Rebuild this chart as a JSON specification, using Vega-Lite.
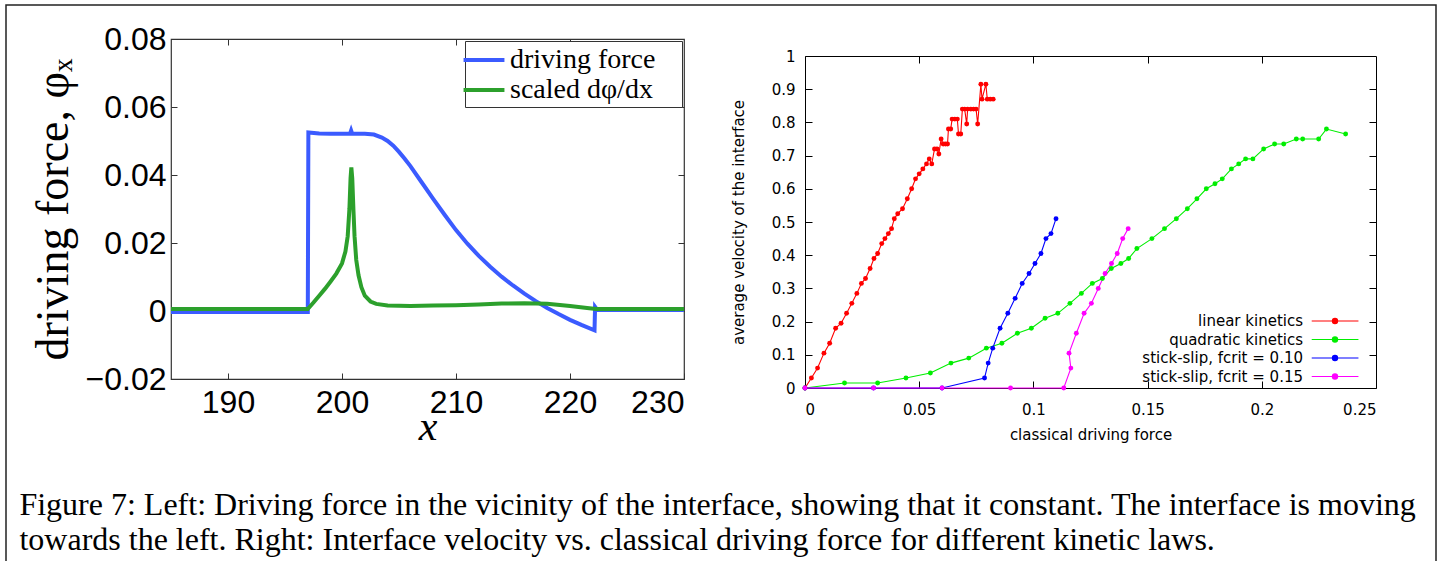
{
  "$schema": "https://vega.github.io/schema/vega-lite/v6.json",
  "background": "white",
  "padding": {"left": 5, "top": 4, "right": 5, "bottom": 0},
  "columns": 2,
  "align": "none",
  "spacing": -1418,
  "config": {
    "axis": {"grid": false, "domain": false, "tickColor": "black", "labelColor": "black", "titleColor": "black", "titleFontWeight": "normal", "labelFontWeight": "normal"},
    "title": {"fontWeight": "normal", "color": "black"}
  },
  "concat": [
    {
      "width": 1430,
      "height": 620,
      "data": {"values": []},
      "mark": {"type": "point", "opacity": 0},
      "view": {"stroke": "#222", "strokeWidth": 1.5, "fill": null}
    },
    {
      "spacing": 16,
      "vconcat": [
        {
          "width": 1,
          "height": 1,
          "data": {"values": []},
          "mark": {"type": "point", "opacity": 0},
          "view": {"stroke": null, "fill": null}
        },
        {
          "columns": 2,
          "align": "none",
          "spacing": 37,
          "resolve": {"scale": {"color": "independent"}, "legend": {"color": "independent"}},
          "title": {
            "text": [
              "Figure 7: Left: Driving force in the vicinity of the interface, showing that it constant. The interface is moving",
              "towards the left. Right: Interface velocity vs. classical driving force for different kinetic laws."
            ],
            "orient": "bottom",
            "anchor": "start",
            "align": "left",
            "frame": "bounds",
            "dx": -10,
            "offset": 42,
            "font": "Liberation Serif",
            "fontSize": 32,
            "lineHeight": 35,
            "color": "black"
          },
          "concat": [
            {
              "width": 513,
              "height": 340,
              "view": {"stroke": "#333", "strokeWidth": 1.2},
              "data": {"values": [
                {"s": "driving force", "i": 1, "x": 185, "y": -0.0003},
                {"s": "driving force", "i": 2, "x": 197.0, "y": -0.0003},
                {"s": "driving force", "i": 3, "x": 197.05, "y": 0.0525},
                {"s": "driving force", "i": 4, "x": 198, "y": 0.0522},
                {"s": "driving force", "i": 5, "x": 199, "y": 0.0521},
                {"s": "driving force", "i": 6, "x": 200, "y": 0.0521},
                {"s": "driving force", "i": 7, "x": 200.7, "y": 0.0521},
                {"s": "driving force", "i": 8, "x": 200.8, "y": 0.0531},
                {"s": "driving force", "i": 9, "x": 200.9, "y": 0.0521},
                {"s": "driving force", "i": 10, "x": 202, "y": 0.0521},
                {"s": "driving force", "i": 11, "x": 202.8, "y": 0.0519},
                {"s": "driving force", "i": 12, "x": 203.5, "y": 0.0510},
                {"s": "driving force", "i": 13, "x": 204, "y": 0.0500},
                {"s": "driving force", "i": 14, "x": 204.5, "y": 0.0486},
                {"s": "driving force", "i": 15, "x": 205, "y": 0.0468},
                {"s": "driving force", "i": 16, "x": 205.5, "y": 0.0448},
                {"s": "driving force", "i": 17, "x": 206, "y": 0.0426},
                {"s": "driving force", "i": 18, "x": 207, "y": 0.0378},
                {"s": "driving force", "i": 19, "x": 208, "y": 0.0330},
                {"s": "driving force", "i": 20, "x": 209, "y": 0.0283},
                {"s": "driving force", "i": 21, "x": 210, "y": 0.0238},
                {"s": "driving force", "i": 22, "x": 211, "y": 0.0198},
                {"s": "driving force", "i": 23, "x": 212, "y": 0.0162},
                {"s": "driving force", "i": 24, "x": 213, "y": 0.0130},
                {"s": "driving force", "i": 25, "x": 214, "y": 0.0101},
                {"s": "driving force", "i": 26, "x": 215, "y": 0.0075},
                {"s": "driving force", "i": 27, "x": 216, "y": 0.0051},
                {"s": "driving force", "i": 28, "x": 217, "y": 0.0029},
                {"s": "driving force", "i": 29, "x": 218, "y": 0.0009},
                {"s": "driving force", "i": 30, "x": 219, "y": -0.0009},
                {"s": "driving force", "i": 31, "x": 220, "y": -0.0026},
                {"s": "driving force", "i": 32, "x": 221, "y": -0.0041},
                {"s": "driving force", "i": 33, "x": 222.15, "y": -0.0057},
                {"s": "driving force", "i": 34, "x": 222.2, "y": 0.0012},
                {"s": "driving force", "i": 35, "x": 222.4, "y": 0.0003},
                {"s": "driving force", "i": 36, "x": 230, "y": 0.0003},
                {"s": "scaled dφ/dx", "i": 1, "x": 185, "y": 0.0006},
                {"s": "scaled dφ/dx", "i": 2, "x": 197.0, "y": 0.0006},
                {"s": "scaled dφ/dx", "i": 3, "x": 197.5, "y": 0.0025},
                {"s": "scaled dφ/dx", "i": 4, "x": 198, "y": 0.0045},
                {"s": "scaled dφ/dx", "i": 5, "x": 198.5, "y": 0.0065},
                {"s": "scaled dφ/dx", "i": 6, "x": 199, "y": 0.0087},
                {"s": "scaled dφ/dx", "i": 7, "x": 199.5, "y": 0.0110},
                {"s": "scaled dφ/dx", "i": 8, "x": 200, "y": 0.0140},
                {"s": "scaled dφ/dx", "i": 9, "x": 200.3, "y": 0.0175},
                {"s": "scaled dφ/dx", "i": 10, "x": 200.5, "y": 0.0220},
                {"s": "scaled dφ/dx", "i": 11, "x": 200.65, "y": 0.0300},
                {"s": "scaled dφ/dx", "i": 12, "x": 200.75, "y": 0.0390},
                {"s": "scaled dφ/dx", "i": 13, "x": 200.82, "y": 0.0422},
                {"s": "scaled dφ/dx", "i": 14, "x": 200.9, "y": 0.0390},
                {"s": "scaled dφ/dx", "i": 15, "x": 201.0, "y": 0.0300},
                {"s": "scaled dφ/dx", "i": 16, "x": 201.1, "y": 0.0220},
                {"s": "scaled dφ/dx", "i": 17, "x": 201.25, "y": 0.0150},
                {"s": "scaled dφ/dx", "i": 18, "x": 201.45, "y": 0.0105},
                {"s": "scaled dφ/dx", "i": 19, "x": 201.7, "y": 0.0070},
                {"s": "scaled dφ/dx", "i": 20, "x": 202.0, "y": 0.0045},
                {"s": "scaled dφ/dx", "i": 21, "x": 202.5, "y": 0.0028},
                {"s": "scaled dφ/dx", "i": 22, "x": 203, "y": 0.0021},
                {"s": "scaled dφ/dx", "i": 23, "x": 204, "y": 0.0016},
                {"s": "scaled dφ/dx", "i": 24, "x": 206, "y": 0.0015},
                {"s": "scaled dφ/dx", "i": 25, "x": 208, "y": 0.0016},
                {"s": "scaled dφ/dx", "i": 26, "x": 210, "y": 0.0017},
                {"s": "scaled dφ/dx", "i": 27, "x": 212, "y": 0.0019},
                {"s": "scaled dφ/dx", "i": 28, "x": 214, "y": 0.0022},
                {"s": "scaled dφ/dx", "i": 29, "x": 216, "y": 0.0023},
                {"s": "scaled dφ/dx", "i": 30, "x": 218, "y": 0.0021},
                {"s": "scaled dφ/dx", "i": 31, "x": 220, "y": 0.0015},
                {"s": "scaled dφ/dx", "i": 32, "x": 221.5, "y": 0.0009},
                {"s": "scaled dφ/dx", "i": 33, "x": 222.3, "y": 0.0006},
                {"s": "scaled dφ/dx", "i": 34, "x": 230, "y": 0.0006}
              ]},
              "layer": [
                {
                  "mark": {"type": "point", "opacity": 0},
                  "encoding": {
                    "x": {"field": "x", "type": "quantitative", "scale": {"domain": [185, 230], "nice": false, "zero": false},
                      "axis": {"orient": "top", "values": [190, 200, 210, 220], "labels": false, "tickSize": -6, "tickColor": "#333", "title": null}},
                    "y": {"field": "y", "type": "quantitative", "scale": {"domain": [-0.02, 0.08], "nice": false, "zero": false},
                      "axis": {"orient": "right", "values": [0, 0.02, 0.04, 0.06], "labels": false, "tickSize": -6, "tickColor": "#333", "title": null}}
                  }
                },
                {
                  "mark": {"type": "line", "strokeWidth": 4},
                  "encoding": {
                    "x": {"field": "x", "type": "quantitative", "scale": {"domain": [185, 230], "nice": false, "zero": false},
                      "axis": {"orient": "bottom", "values": [190, 200, 210, 220, 230], "format": "d", "tickSize": -6, "tickColor": "#333",
                        "labelFont": "Liberation Sans", "labelFontSize": 32, "labelPadding": 14,
                        "title": "x", "titleFont": "Liberation Serif", "titleFontStyle": "italic", "titleFontSize": 42, "titlePadding": -12}},
                    "y": {"field": "y", "type": "quantitative", "scale": {"domain": [-0.02, 0.08], "nice": false, "zero": false},
                      "axis": {"orient": "left", "values": [-0.02, 0, 0.02, 0.04, 0.06, 0.08], "format": ".2~f", "tickSize": -6, "tickColor": "#333",
                        "labelFont": "Liberation Sans", "labelFontSize": 32, "labelPadding": 11,
                        "title": "driving force, φₓ", "titleFont": "Liberation Serif", "titleFontSize": 46, "titlePadding": 8}},
                    "color": {"field": "s", "type": "nominal",
                      "scale": {"domain": ["driving force", "scaled dφ/dx"], "range": ["#3b5bff", "#2ca02c"]},
                      "legend": {"orient": "top-right", "offset": 2, "title": null, "symbolType": "M-1.72,0L-1.72,0M-1.46,0H1.46M13.3,0L13.3,0", "symbolSize": 784, "symbolStrokeWidth": 4,
                        "labelFont": "Liberation Serif", "labelFontSize": 28, "labelColor": "black", "labelLimit": 0, "labelOffset": 10,
                        "strokeColor": "#333", "fillColor": "white", "padding": 3, "rowPadding": 0}},
                    "order": {"field": "i", "type": "quantitative"}
                  }
                }
              ],
              "resolve": {"axis": {"x": "independent", "y": "independent"}}
            },
            {
              "spacing": 8,
              "vconcat": [
                {
                  "width": 1,
                  "height": 1,
                  "data": {"values": []},
                  "mark": {"type": "point", "opacity": 0},
                  "view": {"stroke": null, "fill": null}
                },
                {
                  "width": 571,
                  "height": 332,
                  "view": {"stroke": "black", "strokeWidth": 1},
                  "data": {"values": [
                    {"s": "linear kinetics", "i": 1, "x": 0, "y": 0},
                    {"s": "linear kinetics", "i": 2, "x": 0.0028, "y": 0.03},
                    {"s": "linear kinetics", "i": 3, "x": 0.0055, "y": 0.06},
                    {"s": "linear kinetics", "i": 4, "x": 0.0083, "y": 0.105},
                    {"s": "linear kinetics", "i": 5, "x": 0.0108, "y": 0.135},
                    {"s": "linear kinetics", "i": 6, "x": 0.0134, "y": 0.18},
                    {"s": "linear kinetics", "i": 7, "x": 0.0158, "y": 0.195},
                    {"s": "linear kinetics", "i": 8, "x": 0.0182, "y": 0.225},
                    {"s": "linear kinetics", "i": 9, "x": 0.0205, "y": 0.255},
                    {"s": "linear kinetics", "i": 10, "x": 0.0227, "y": 0.285},
                    {"s": "linear kinetics", "i": 11, "x": 0.0247, "y": 0.315},
                    {"s": "linear kinetics", "i": 12, "x": 0.0265, "y": 0.33},
                    {"s": "linear kinetics", "i": 13, "x": 0.0285, "y": 0.36},
                    {"s": "linear kinetics", "i": 14, "x": 0.0302, "y": 0.39},
                    {"s": "linear kinetics", "i": 15, "x": 0.0318, "y": 0.405},
                    {"s": "linear kinetics", "i": 16, "x": 0.0336, "y": 0.435},
                    {"s": "linear kinetics", "i": 17, "x": 0.035, "y": 0.45},
                    {"s": "linear kinetics", "i": 18, "x": 0.0365, "y": 0.465},
                    {"s": "linear kinetics", "i": 19, "x": 0.0379, "y": 0.48},
                    {"s": "linear kinetics", "i": 20, "x": 0.0391, "y": 0.51},
                    {"s": "linear kinetics", "i": 21, "x": 0.0406, "y": 0.525},
                    {"s": "linear kinetics", "i": 22, "x": 0.0427, "y": 0.54},
                    {"s": "linear kinetics", "i": 23, "x": 0.0448, "y": 0.57},
                    {"s": "linear kinetics", "i": 24, "x": 0.0467, "y": 0.6},
                    {"s": "linear kinetics", "i": 25, "x": 0.0484, "y": 0.63},
                    {"s": "linear kinetics", "i": 26, "x": 0.05, "y": 0.645},
                    {"s": "linear kinetics", "i": 27, "x": 0.0516, "y": 0.66},
                    {"s": "linear kinetics", "i": 28, "x": 0.0532, "y": 0.675},
                    {"s": "linear kinetics", "i": 29, "x": 0.0544, "y": 0.69},
                    {"s": "linear kinetics", "i": 30, "x": 0.0555, "y": 0.675},
                    {"s": "linear kinetics", "i": 31, "x": 0.0567, "y": 0.72},
                    {"s": "linear kinetics", "i": 32, "x": 0.0578, "y": 0.72},
                    {"s": "linear kinetics", "i": 33, "x": 0.0586, "y": 0.705},
                    {"s": "linear kinetics", "i": 34, "x": 0.0596, "y": 0.75},
                    {"s": "linear kinetics", "i": 35, "x": 0.0605, "y": 0.735},
                    {"s": "linear kinetics", "i": 36, "x": 0.0615, "y": 0.735},
                    {"s": "linear kinetics", "i": 37, "x": 0.0624, "y": 0.735},
                    {"s": "linear kinetics", "i": 38, "x": 0.0628, "y": 0.78},
                    {"s": "linear kinetics", "i": 39, "x": 0.0638, "y": 0.78},
                    {"s": "linear kinetics", "i": 40, "x": 0.0644, "y": 0.81},
                    {"s": "linear kinetics", "i": 41, "x": 0.0656, "y": 0.81},
                    {"s": "linear kinetics", "i": 42, "x": 0.0667, "y": 0.81},
                    {"s": "linear kinetics", "i": 43, "x": 0.0672, "y": 0.765},
                    {"s": "linear kinetics", "i": 44, "x": 0.0682, "y": 0.765},
                    {"s": "linear kinetics", "i": 45, "x": 0.0689, "y": 0.84},
                    {"s": "linear kinetics", "i": 46, "x": 0.0699, "y": 0.84},
                    {"s": "linear kinetics", "i": 47, "x": 0.0708, "y": 0.795},
                    {"s": "linear kinetics", "i": 48, "x": 0.0712, "y": 0.84},
                    {"s": "linear kinetics", "i": 49, "x": 0.0726, "y": 0.84},
                    {"s": "linear kinetics", "i": 50, "x": 0.0738, "y": 0.84},
                    {"s": "linear kinetics", "i": 51, "x": 0.0749, "y": 0.84},
                    {"s": "linear kinetics", "i": 52, "x": 0.0756, "y": 0.795},
                    {"s": "linear kinetics", "i": 53, "x": 0.077, "y": 0.915},
                    {"s": "linear kinetics", "i": 54, "x": 0.0775, "y": 0.87},
                    {"s": "linear kinetics", "i": 55, "x": 0.0792, "y": 0.915},
                    {"s": "linear kinetics", "i": 56, "x": 0.0798, "y": 0.87},
                    {"s": "linear kinetics", "i": 57, "x": 0.0811, "y": 0.87},
                    {"s": "linear kinetics", "i": 58, "x": 0.0824, "y": 0.87},
                    {"s": "quadratic kinetics", "i": 1, "x": 0, "y": 0},
                    {"s": "quadratic kinetics", "i": 2, "x": 0.0173, "y": 0.015},
                    {"s": "quadratic kinetics", "i": 3, "x": 0.0318, "y": 0.015},
                    {"s": "quadratic kinetics", "i": 4, "x": 0.0442, "y": 0.03},
                    {"s": "quadratic kinetics", "i": 5, "x": 0.0549, "y": 0.045},
                    {"s": "quadratic kinetics", "i": 6, "x": 0.0639, "y": 0.075},
                    {"s": "quadratic kinetics", "i": 7, "x": 0.0717, "y": 0.09},
                    {"s": "quadratic kinetics", "i": 8, "x": 0.0794, "y": 0.12},
                    {"s": "quadratic kinetics", "i": 9, "x": 0.0862, "y": 0.135},
                    {"s": "quadratic kinetics", "i": 10, "x": 0.093, "y": 0.165},
                    {"s": "quadratic kinetics", "i": 11, "x": 0.0991, "y": 0.18},
                    {"s": "quadratic kinetics", "i": 12, "x": 0.1051, "y": 0.21},
                    {"s": "quadratic kinetics", "i": 13, "x": 0.1107, "y": 0.225},
                    {"s": "quadratic kinetics", "i": 14, "x": 0.116, "y": 0.255},
                    {"s": "quadratic kinetics", "i": 15, "x": 0.121, "y": 0.285},
                    {"s": "quadratic kinetics", "i": 16, "x": 0.1258, "y": 0.315},
                    {"s": "quadratic kinetics", "i": 17, "x": 0.1302, "y": 0.33},
                    {"s": "quadratic kinetics", "i": 18, "x": 0.1341, "y": 0.36},
                    {"s": "quadratic kinetics", "i": 19, "x": 0.1383, "y": 0.375},
                    {"s": "quadratic kinetics", "i": 20, "x": 0.1417, "y": 0.39},
                    {"s": "quadratic kinetics", "i": 21, "x": 0.1453, "y": 0.42},
                    {"s": "quadratic kinetics", "i": 22, "x": 0.1519, "y": 0.45},
                    {"s": "quadratic kinetics", "i": 23, "x": 0.1574, "y": 0.48},
                    {"s": "quadratic kinetics", "i": 24, "x": 0.1626, "y": 0.51},
                    {"s": "quadratic kinetics", "i": 25, "x": 0.1674, "y": 0.54},
                    {"s": "quadratic kinetics", "i": 26, "x": 0.1716, "y": 0.57},
                    {"s": "quadratic kinetics", "i": 27, "x": 0.1757, "y": 0.6},
                    {"s": "quadratic kinetics", "i": 28, "x": 0.1795, "y": 0.615},
                    {"s": "quadratic kinetics", "i": 29, "x": 0.1827, "y": 0.63},
                    {"s": "quadratic kinetics", "i": 30, "x": 0.1867, "y": 0.66},
                    {"s": "quadratic kinetics", "i": 31, "x": 0.1899, "y": 0.675},
                    {"s": "quadratic kinetics", "i": 32, "x": 0.1929, "y": 0.69},
                    {"s": "quadratic kinetics", "i": 33, "x": 0.1961, "y": 0.69},
                    {"s": "quadratic kinetics", "i": 34, "x": 0.2008, "y": 0.72},
                    {"s": "quadratic kinetics", "i": 35, "x": 0.2056, "y": 0.735},
                    {"s": "quadratic kinetics", "i": 36, "x": 0.2096, "y": 0.735},
                    {"s": "quadratic kinetics", "i": 37, "x": 0.2151, "y": 0.75},
                    {"s": "quadratic kinetics", "i": 38, "x": 0.2179, "y": 0.75},
                    {"s": "quadratic kinetics", "i": 39, "x": 0.2249, "y": 0.75},
                    {"s": "quadratic kinetics", "i": 40, "x": 0.2283, "y": 0.78},
                    {"s": "quadratic kinetics", "i": 41, "x": 0.2367, "y": 0.765},
                    {"s": "stick-slip, fcrit = 0.10", "i": 1, "x": 0, "y": 0},
                    {"s": "stick-slip, fcrit = 0.10", "i": 2, "x": 0.03, "y": 0},
                    {"s": "stick-slip, fcrit = 0.10", "i": 3, "x": 0.06, "y": 0},
                    {"s": "stick-slip, fcrit = 0.10", "i": 4, "x": 0.0786, "y": 0.03},
                    {"s": "stick-slip, fcrit = 0.10", "i": 5, "x": 0.0802, "y": 0.075},
                    {"s": "stick-slip, fcrit = 0.10", "i": 6, "x": 0.0822, "y": 0.12},
                    {"s": "stick-slip, fcrit = 0.10", "i": 7, "x": 0.0854, "y": 0.18},
                    {"s": "stick-slip, fcrit = 0.10", "i": 8, "x": 0.0888, "y": 0.225},
                    {"s": "stick-slip, fcrit = 0.10", "i": 9, "x": 0.092, "y": 0.27},
                    {"s": "stick-slip, fcrit = 0.10", "i": 10, "x": 0.0951, "y": 0.315},
                    {"s": "stick-slip, fcrit = 0.10", "i": 11, "x": 0.0981, "y": 0.345},
                    {"s": "stick-slip, fcrit = 0.10", "i": 12, "x": 0.1007, "y": 0.375},
                    {"s": "stick-slip, fcrit = 0.10", "i": 13, "x": 0.1033, "y": 0.405},
                    {"s": "stick-slip, fcrit = 0.10", "i": 14, "x": 0.1055, "y": 0.45},
                    {"s": "stick-slip, fcrit = 0.10", "i": 15, "x": 0.1077, "y": 0.465},
                    {"s": "stick-slip, fcrit = 0.10", "i": 16, "x": 0.1099, "y": 0.51},
                    {"s": "stick-slip, fcrit = 0.15", "i": 1, "x": 0, "y": 0},
                    {"s": "stick-slip, fcrit = 0.15", "i": 2, "x": 0.03, "y": 0},
                    {"s": "stick-slip, fcrit = 0.15", "i": 3, "x": 0.06, "y": 0},
                    {"s": "stick-slip, fcrit = 0.15", "i": 4, "x": 0.09, "y": 0},
                    {"s": "stick-slip, fcrit = 0.15", "i": 5, "x": 0.1133, "y": 0},
                    {"s": "stick-slip, fcrit = 0.15", "i": 6, "x": 0.1164, "y": 0.06},
                    {"s": "stick-slip, fcrit = 0.15", "i": 7, "x": 0.1156, "y": 0.105},
                    {"s": "stick-slip, fcrit = 0.15", "i": 8, "x": 0.1188, "y": 0.165},
                    {"s": "stick-slip, fcrit = 0.15", "i": 9, "x": 0.1222, "y": 0.225},
                    {"s": "stick-slip, fcrit = 0.15", "i": 10, "x": 0.1254, "y": 0.255},
                    {"s": "stick-slip, fcrit = 0.15", "i": 11, "x": 0.1284, "y": 0.3},
                    {"s": "stick-slip, fcrit = 0.15", "i": 12, "x": 0.1314, "y": 0.345},
                    {"s": "stick-slip, fcrit = 0.15", "i": 13, "x": 0.1342, "y": 0.375},
                    {"s": "stick-slip, fcrit = 0.15", "i": 14, "x": 0.1367, "y": 0.405},
                    {"s": "stick-slip, fcrit = 0.15", "i": 15, "x": 0.1391, "y": 0.45},
                    {"s": "stick-slip, fcrit = 0.15", "i": 16, "x": 0.1415, "y": 0.48}
                  ]},
                  "layer": [
                    {
                      "mark": {"type": "point", "opacity": 0},
                      "encoding": {
                        "x": {"field": "x", "type": "quantitative", "scale": {"domain": [0, 0.25], "nice": false},
                          "axis": {"orient": "top", "values": [0.05, 0.1, 0.15, 0.2], "labels": false, "tickSize": -7, "title": null}},
                        "y": {"field": "y", "type": "quantitative", "scale": {"domain": [0, 1], "nice": false},
                          "axis": {"orient": "right", "values": [0.1, 0.2, 0.3, 0.4, 0.5, 0.6, 0.7, 0.8, 0.9], "labels": false, "tickSize": -7, "title": null}}
                      }
                    },
                    {
                      "mark": {"type": "line", "strokeWidth": 1.1, "point": {"filled": true, "size": 24, "opacity": 1}},
                      "encoding": {
                        "x": {"field": "x", "type": "quantitative", "scale": {"domain": [0, 0.25], "nice": false},
                          "axis": {"orient": "bottom", "values": [0, 0.05, 0.1, 0.15, 0.2, 0.25], "format": ".2~f", "tickSize": -7,
                            "labelFont": "DejaVu Sans", "labelFontSize": 15, "labelPadding": 21,
                            "title": "classical driving force", "titleFont": "DejaVu Sans", "titleFontSize": 15, "titlePadding": 10}},
                        "y": {"field": "y", "type": "quantitative", "scale": {"domain": [0, 1], "nice": false},
                          "axis": {"orient": "left", "values": [0, 0.1, 0.2, 0.3, 0.4, 0.5, 0.6, 0.7, 0.8, 0.9, 1], "format": ".1~f", "tickSize": -7,
                            "labelFont": "DejaVu Sans", "labelFontSize": 15, "labelPadding": 17,
                            "title": "average velocity of the interface", "titleFont": "DejaVu Sans", "titleFontSize": 15, "titlePadding": 25}},
                        "color": {"field": "s", "type": "nominal",
                          "scale": {"domain": ["linear kinetics", "quadratic kinetics", "stick-slip, fcrit = 0.10", "stick-slip, fcrit = 0.15"],
                            "range": ["#ff0000", "#00ee00", "#0000ff", "#ff00ff"]},
                          "legend": {"orient": "none", "legendX": 521, "legendY": 273, "title": null, "padding": 0, "direction": "vertical",
                            "symbolType": "M-26.9,0L-26.9,0M-2.91,0L2.93,0M-0.325,0A0.325,0.325,0,1,0,0.325,0A0.325,0.325,0,1,0,-0.325,0M-0.21,0A0.21,0.21,0,1,0,0.21,0A0.21,0.21,0,1,0,-0.21,0M-0.1,0A0.1,0.1,0,1,0,0.1,0A0.1,0.1,0,1,0,-0.1,0",
                            "symbolSize": 256, "symbolStrokeWidth": 1.2, "symbolOpacity": 1,
                            "labelAlign": "right", "labelOffset": -41, "labelFont": "DejaVu Sans", "labelFontSize": 15, "labelColor": "black", "labelLimit": 0,
                            "rowPadding": 1.5}},
                        "order": {"field": "i", "type": "quantitative"}
                      }
                    }
                  ],
                  "resolve": {"axis": {"x": "independent", "y": "independent"}}
                }
              ]
            }
          ]
        }
      ]
    }
  ]
}
